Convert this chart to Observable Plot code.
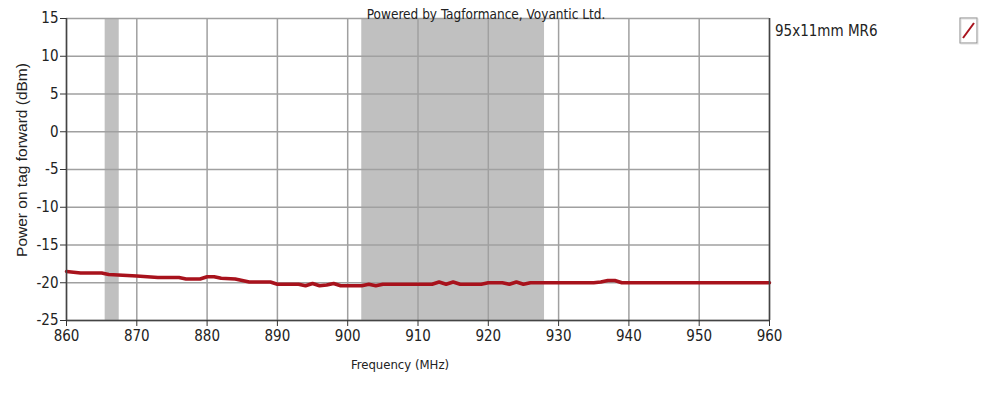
<!DOCTYPE html>
<html><head><meta charset="utf-8">
<script src="https://cdn.jsdelivr.net/npm/d3@7"></script>
<script src="https://cdn.jsdelivr.net/npm/@observablehq/plot@0.6"></script>
<style>
body{margin:0;background:#fff;font-family:"DejaVu Sans Condensed","DejaVu Sans",sans-serif;}
#wrap{position:relative;width:1000px;height:400px;}
.t{position:absolute;color:#222;white-space:nowrap;}
</style></head>
<body><div id="wrap"></div>
<script>
const freq = [860,862,865,866,870,873,876,877,879,880,881,882,884,886,889,890,893,894,895,896,897,898,899,900,902,903,904,905,906,912,913,914,915,916,919,920,922,923,924,925,926,930,935,936,937,938,939,945,950,955,960];
const power = [-18.5,-18.7,-18.7,-18.9,-19.1,-19.3,-19.3,-19.5,-19.5,-19.2,-19.2,-19.4,-19.5,-19.9,-19.9,-20.2,-20.2,-20.4,-20.1,-20.4,-20.3,-20.1,-20.4,-20.4,-20.4,-20.2,-20.4,-20.2,-20.2,-20.2,-19.9,-20.2,-19.9,-20.2,-20.2,-20.0,-20.0,-20.2,-19.9,-20.2,-20.0,-20.0,-20.0,-19.9,-19.7,-19.7,-20.0,-20.0,-20.0,-20.0,-20.0];
const bandStart = [865.5, 902];
const bandEnd = [867.5, 928];
const xTicks = [860,870,880,890,900,910,920,930,940,950,960];
const yTicks = [15,10,5,0,-5,-10,-15,-20,-25];
const seriesName = "95x11mm MR6";
const titleText = "Powered by Tagformance, Voyantic Ltd.";
const xLabel = "Frequency (MHz)";
const yLabel = "Power on tag forward (dBm)";

const data = freq.map((f,i)=>({f, p: power[i]}));
const bands = bandStart.map((s,i)=>({s, e: bandEnd[i]}));

const chart = Plot.plot({
  width: 1000, height: 400,
  marginLeft: 66, marginRight: 231, marginTop: 18, marginBottom: 80,
  style: {fontFamily: '"DejaVu Sans Condensed","DejaVu Sans",sans-serif', fontSize: "14px", color: "#222", background: "#fff"},
  x: {domain: [860, 960], ticks: xTicks, label: null},
  y: {domain: [-25, 15], ticks: yTicks, label: null},
  marks: [
    Plot.rectX(bands, {x1: "s", x2: "e", fill: "#c0c0c0"}),
    Plot.ruleX(xTicks, {stroke: "#a0a0a0", strokeWidth: 1.5}),
    Plot.ruleY(yTicks, {stroke: "#a0a0a0", strokeWidth: 1.5}),
    Plot.line(data, {x: "f", y: "p", stroke: "#a8121c", strokeWidth: 3.5, curve: "linear"}),
    Plot.ruleY([-25], {stroke: "#444", strokeWidth: 1.5}),
    Plot.ruleX([860, 960], {stroke: "#444", strokeWidth: 1.5}),
    Plot.axisX({ticks: xTicks, tickSize: 6, tickPadding: 4, fontSize: 15, stroke: "#333"}),
    Plot.axisY({ticks: yTicks, tickSize: 6, tickPadding: 2, fontSize: 15, stroke: "#333", tickFormat: d => String(d)})
  ]
});
const wrap = document.getElementById("wrap");
wrap.appendChild(chart);

function addText(txt, css){const d=document.createElement("div");d.className="t";d.textContent=txt;Object.assign(d.style,css);wrap.appendChild(d);}
addText(titleText,{left:"486px",top:"6px",transform:"translateX(-50%)",fontSize:"13.5px"});
addText(seriesName,{left:"775px",top:"22px",fontSize:"15px"});
addText(xLabel,{left:"400px",top:"357px",transform:"translateX(-50%)",fontSize:"13px"});
addText(yLabel,{left:"22px",top:"160px",transform:"translate(-50%,-50%) rotate(-90deg)",fontSize:"15.5px",fontFamily:'"Liberation Sans",Arial,sans-serif'});

const ns="http://www.w3.org/2000/svg";
const icon=document.createElementNS(ns,"svg");
icon.setAttribute("width","20");icon.setAttribute("height","28");
icon.style.position="absolute";icon.style.left="959px";icon.style.top="17px";
icon.innerHTML='<rect x="1" y="1" width="17" height="25" fill="#fff" stroke="#888" stroke-width="1"/><rect x="2" y="2" width="17" height="25" fill="none" stroke="#ccc" stroke-width="1" opacity="0.6"/><line x1="4" y1="21" x2="15" y2="6" stroke="#a8121c" stroke-width="2"/>';
wrap.appendChild(icon);
</script></body></html>
